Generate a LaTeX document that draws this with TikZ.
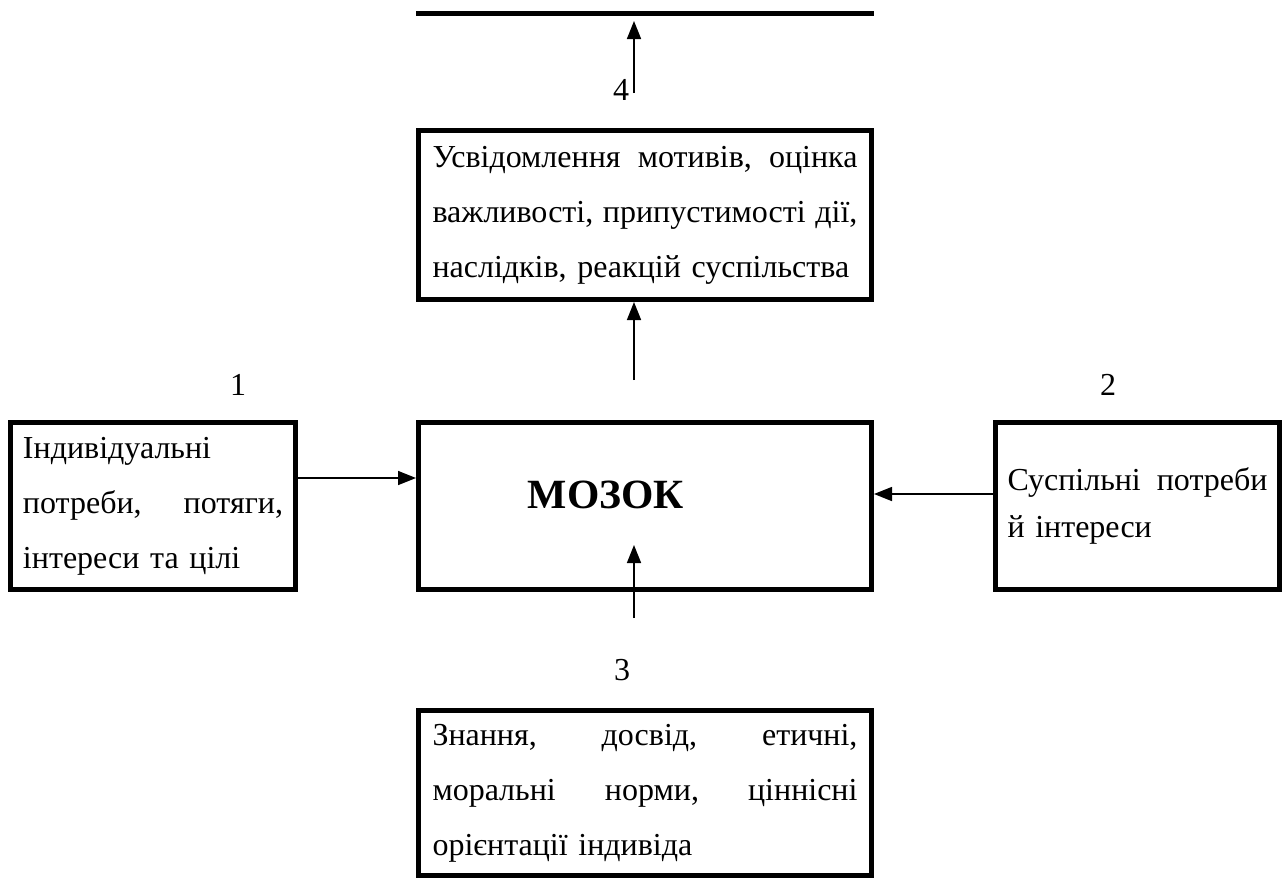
\documentclass[tikz,border=0pt]{standalone}
\usepackage{fontspec}
\setmainfont{Liberation Serif}
\usetikzlibrary{arrows.meta}
\newcommand\jline[1]{\leavevmode\hbox to\hsize{#1}}
\begin{document}
\begin{tikzpicture}[x=0.5pt,y=-0.5pt,
  box/.style={draw,line width=2.5pt,inner sep=0pt,align=left,
    font=\fontsize{16}{27.5}\selectfont},
  wide/.style={box,minimum width=226.5pt,text width=212.5pt},
  narrow/.style={box,minimum width=142.5pt,text width=130pt},
  arr/.style={line width=0.8pt,-{Triangle[length=9pt,width=7pt]}},
  num/.style={font=\fontsize{16}{19}\selectfont,inner sep=0pt}]
\useasboundingbox (0,0) rectangle (1284,880);
% top bar
\coordinate (barL) at (416,13);
\coordinate (barR) at (874,13);
\draw[line width=2.5pt] (barL) -- (barR);
% boxes
\node[wide,minimum height=84.5pt] (top) at (645,215)
 {\jline{Усвідомлення\hfill мотивів,\hfill оцінка}\\
  \jline{важливості,\hfill припустимості\hfill дії,}\\
  наслідків, реакцій суспільства};
\node[wide,minimum height=83.5pt] (brain) at (645,506) {};
\node[font=\fontsize{20.8}{24}\selectfont\bfseries,inner sep=0pt] (mozok) at (606,495) {МОЗОК};
\node[narrow,minimum height=83.5pt] (left) at (153,506)
 {Індивідуальні\\
  \jline{потреби,\hfill потяги,}\\
  інтереси та цілі};
\node[narrow,minimum width=142pt,minimum height=83.5pt,
      font=\fontsize{16}{23.5}\selectfont] (right) at (1137.5,506)
 {\jline{Суспільні\hfill потреби}\\
  й інтереси};
\node[wide,minimum height=82.5pt] (bottom) at (645,793)
 {\jline{Знання,\hfill досвід,\hfill етичні,}\\
  \jline{моральні\hfill норми,\hfill ціннісні}\\
  орієнтації індивіда};
% numbers
\node[num] (n1) at (238,385) {1};
\node[num] (n2) at (1108,385) {2};
\node[num] (n3) at (622,670) {3};
\node[num] (n4) at (621,90) {4};
% arrows
\coordinate (a4s) at (634,93);
\coordinate (a4e) at (634,21);
\draw[arr] (a4s) -- (a4e);
\coordinate (a0s) at (634,380);
\draw[arr] (a0s) -- (a0s |- top.south);
\draw[arr] (left.east |- 0,478) -- (brain.west |- 0,478);
\draw[arr] (right.west |- 0,494) -- (brain.east |- 0,494);
\coordinate (a3s) at (634,618);
\coordinate (a3e) at (634,545);
\draw[arr] (a3s) -- (a3e);
\end{tikzpicture}
\end{document}
